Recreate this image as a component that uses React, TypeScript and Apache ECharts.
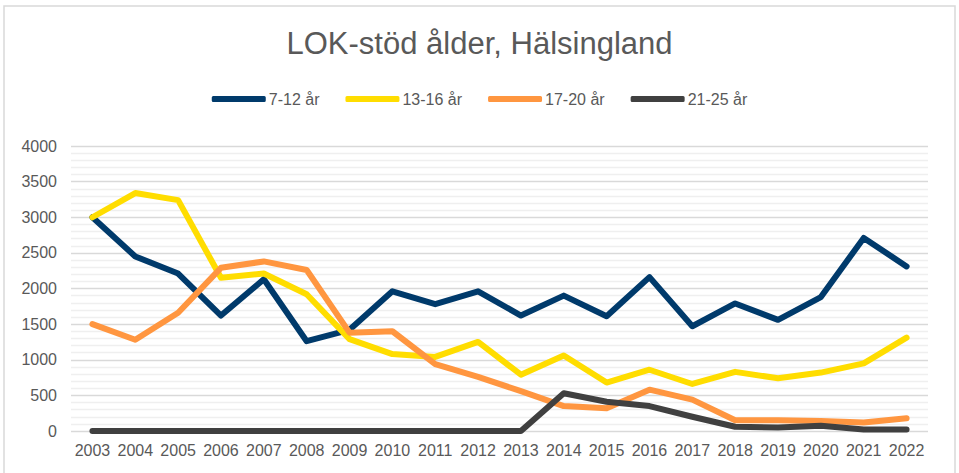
import React, { useEffect, useRef } from "react";
import * as echarts from "echarts";

const years = ["2003","2004","2005","2006","2007","2008","2009","2010","2011","2012","2013","2014","2015","2016","2017","2018","2019","2020","2021","2022"];
const age7to12 = [3000,2450,2210,1620,2130,1260,1420,1960,1780,1960,1620,1900,1610,2160,1470,1790,1560,1880,2710,2310];
const age13to16 = [3000,3340,3240,2150,2210,1920,1290,1080,1040,1250,790,1060,680,860,660,830,740,820,950,1310];
const age17to20 = [1500,1280,1660,2290,2380,2260,1380,1400,940,760,560,350,320,580,440,150,150,140,120,180];
const age21to25 = [0,0,0,0,0,0,0,0,0,0,0,530,410,350,200,60,50,75,20,20];
const seriesNames = ["7-12 år","13-16 år","17-20 år","21-25 år"];
const colors = ["#003A6B","#FFDD00","#FF9640","#404040"];

export default function App() {
  const ref = useRef<HTMLDivElement>(null);
  useEffect(() => {
    document.body.style.margin = "0";
    const chart = echarts.init(ref.current!, null, { renderer: "svg" });
    const font = "Liberation Sans, Arial, sans-serif";
    const datasets = [age7to12, age13to16, age17to20, age21to25];
    chart.setOption({
      animation: false,
      backgroundColor: "#ffffff",
      color: colors,
      title: {
        text: "LOK-stöd ålder, Hälsingland",
        left: "center",
        top: 28,
        padding: 0,
        textStyle: { fontFamily: font, fontSize: 31, fontWeight: "normal", color: "#595959" },
      },
      legend: {
        top: 91,
        left: "center",
        padding: 0,
        itemWidth: 54,
        itemHeight: 6,
        itemGap: 26,
        icon: "roundRect",
        textStyle: { fontFamily: font, fontSize: 16, color: "#595959", padding: [0, 0, 0, -2] },
        data: seriesNames,
      },
      graphic: [
        {
          type: "rect",
          shape: { x: 4, y: 6, width: 951, height: 480 },
          style: { fill: "none", stroke: "#d9d9d9", lineWidth: 1.5 },
          silent: true,
          z: -1,
        },
      ],
      grid: { left: 71, right: 31, top: 146, bottom: 42, containLabel: false },
      xAxis: {
        type: "category",
        data: years,
        boundaryGap: true,
        axisLine: { show: false },
        axisTick: { show: false },
        axisLabel: { fontFamily: font, fontSize: 16, color: "#595959", margin: 11, interval: 0 },
      },
      yAxis: {
        type: "value",
        min: 0,
        max: 4000,
        interval: 500,
        axisLine: { show: false },
        axisTick: { show: false },
        axisLabel: {
          fontFamily: font,
          fontSize: 16,
          color: "#595959",
          margin: 14,
          formatter: (v: number) => String(v),
        },
        splitLine: { lineStyle: { color: "#d9d9d9", width: 1.3 } },
        minorTick: { show: false, splitNumber: 5 },
        minorSplitLine: { show: true, lineStyle: { color: "#efefef", width: 1.3 } },
      },
      series: datasets.map((d, i) => ({
        name: seriesNames[i],
        type: "line",
        data: d,
        showSymbol: false,
        symbol: "none",
        lineStyle: { width: 6, color: colors[i], cap: "round", join: "round" },
        itemStyle: { color: colors[i] },
      })),
    });
    return () => chart.dispose();
  }, []);
  return <div ref={ref} style={{ width: 959, height: 473 }} />;
}
